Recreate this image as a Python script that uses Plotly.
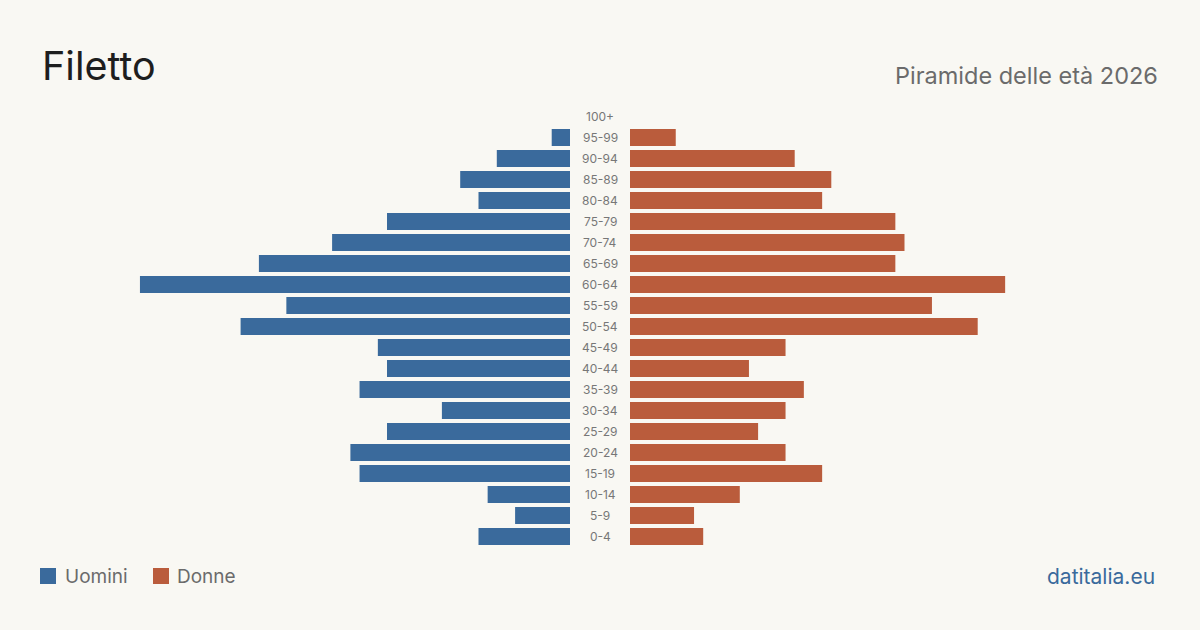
import plotly.graph_objects as go

ages = ["0-4", "5-9", "10-14", "15-19", "20-24", "25-29", "30-34", "35-39", "40-44",
        "45-49", "50-54", "55-59", "60-64", "65-69", "70-74", "75-79", "80-84",
        "85-89", "90-94", "95-99", "100+"]
uomini = [10, 6, 9, 23, 24, 20, 14, 23, 20, 21, 36, 31, 47, 34, 26, 20, 10, 12, 8, 2, 0]
donne = [8, 7, 12, 21, 17, 14, 17, 19, 13, 17, 38, 33, 41, 29, 30, 29, 21, 22, 18, 5, 0]

BLUE = "#3a6a9c"
ORANGE = "#ba5c3c"
BG = "#f9f8f3"
FONT = "Inter"

W, H = 1200, 630
MT, MB = 106, 83
PH = H - MT - MB


def py(p):
    # pixel row (from top of page) -> paper y
    return (H - MB - p) / PH


def px(p):
    return p / W


xmax = 570 / 9.15

fig = go.Figure()
fig.add_trace(go.Bar(y=ages, x=uomini, orientation="h", name="Uomini",
                     marker=dict(color=BLUE, line=dict(width=0)),
                     xaxis="x", yaxis="y", showlegend=False, hoverinfo="x+y"))
fig.add_trace(go.Bar(y=ages, x=donne, orientation="h", name="Donne",
                     marker=dict(color=ORANGE, line=dict(width=0)),
                     xaxis="x2", yaxis="y", showlegend=False, hoverinfo="x+y"))

annotations = []
for a in ages:
    annotations.append(dict(x=0.5, xref="paper", y=a, yref="y", text=a, showarrow=False,
                            xanchor="center", yanchor="middle",
                            font=dict(family=FONT, size=12, color="#777777")))

annotations += [
    dict(x=px(40), y=py(66), xref="paper", yref="paper", text="Filetto",
         showarrow=False, xanchor="left", yanchor="middle",
         font=dict(family=FONT, size=39.5, color="#1e1e1e")),
    dict(x=px(1160), y=py(76), xref="paper", yref="paper",
         text="Piramide delle età 2026", showarrow=False, xanchor="right", yanchor="middle",
         font=dict(family=FONT, size=23.5, color="#6b6b6b")),
    dict(x=px(63), y=py(576), xref="paper", yref="paper", text="Uomini",
         showarrow=False, xanchor="left", yanchor="middle",
         font=dict(family=FONT, size=19, color="#6b6b6b")),
    dict(x=px(175), y=py(576), xref="paper", yref="paper", text="Donne",
         showarrow=False, xanchor="left", yanchor="middle",
         font=dict(family=FONT, size=19, color="#6b6b6b")),
    dict(x=px(1157), y=py(576), xref="paper", yref="paper", text="datitalia.eu",
         showarrow=False, xanchor="right", yanchor="middle",
         font=dict(family=FONT, size=21, color=BLUE)),
]

shapes = [
    dict(type="rect", xref="paper", yref="paper", x0=px(40), x1=px(56),
         y0=py(584), y1=py(568), fillcolor=BLUE, line=dict(width=0)),
    dict(type="rect", xref="paper", yref="paper", x0=px(153), x1=px(169),
         y0=py(584), y1=py(568), fillcolor=ORANGE, line=dict(width=0)),
]

fig.update_layout(
    width=W, height=H,
    margin=dict(l=0, r=0, t=MT, b=MB),
    paper_bgcolor=BG, plot_bgcolor=BG,
    bargap=0.19,
    xaxis=dict(domain=[0, 570 / W], range=[xmax, 0], visible=False, fixedrange=True),
    xaxis2=dict(domain=[630 / W, 1], range=[0, xmax], visible=False, fixedrange=True),
    yaxis=dict(type="category", categoryorder="array", categoryarray=ages,
               range=[-0.5, len(ages) - 0.5], visible=False, fixedrange=True),
    annotations=annotations,
    shapes=shapes,
)

fig.write_html("out.html")
